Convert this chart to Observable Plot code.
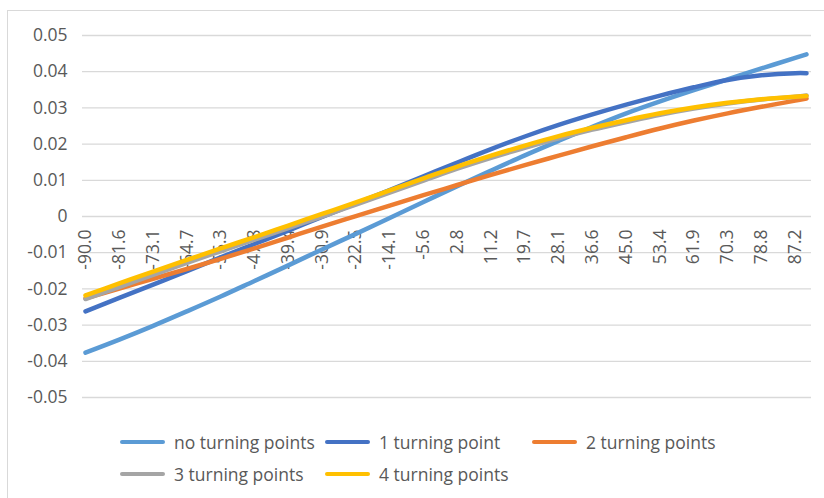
<!DOCTYPE html>
<html>
<head>
<meta charset="utf-8">
<script src="https://cdn.jsdelivr.net/npm/d3@7"></script>
<script src="https://cdn.jsdelivr.net/npm/@observablehq/plot@0.6"></script>
<style>
  body { margin: 0; background: #fff; font-family: "Open Sans", sans-serif; }
  #frame { position: absolute; left: 7px; top: 10px; width: 900px; height: 600px; border: 1px solid #d9d9d9; }
  #chart { position: relative; width: 824px; }
  #chart svg { display: block; }
  .legend { position: relative; padding-left: 120px; margin-top: 6px; display: flex; flex-wrap: wrap; width: 680px; }
  .item { display: flex; align-items: center; height: 32px; color: #595959; font-size: 17.5px; white-space: nowrap; }
  .item:nth-child(3n+1) { width: 205px; }
  .item:nth-child(3n+2) { width: 207px; }
  .swatch { width: 45px; height: 4.5px; border-radius: 2px; margin-right: 9px; }
</style>
</head>
<body>
<div id="frame"></div>
<div id="chart"></div>
<script>
// Latitude categories (degrees) and the labels shown on the category axis
const angles = [-90, -81.5625, -73.125, -64.6875, -56.25, -47.8125, -39.375, -30.9375, -22.5, -14.0625, -5.625,
  2.8125, 11.25, 19.6875, 28.125, 36.5625, 45, 53.4375, 61.875, 70.3125, 78.75, 87.1875, 90];
const angleLabels = ["-90.0", "-81.6", "-73.1", "-64.7", "-56.3", "-47.8", "-39.4", "-30.9", "-22.5", "-14.1", "-5.6",
  "2.8", "11.2", "19.7", "28.1", "36.6", "45.0", "53.4", "61.9", "70.3", "78.8", "87.2"];

const seriesNames = ["no turning points", "1 turning point", "2 turning points", "3 turning points", "4 turning points"];
const seriesColors = ["#5B9BD5", "#4472C4", "#ED7D31", "#A5A5A5", "#FFC000"];

const noTurning = [-0.0376, -0.0340, -0.0302, -0.0262, -0.0221, -0.0178, -0.0135, -0.0091, -0.0048, -0.0004, 0.0040,
  0.0084, 0.0127, 0.0169, 0.0209, 0.0248, 0.0285, 0.0318, 0.0349, 0.0379, 0.0409, 0.0438, 0.0448];
const oneTurning = [-0.0262, -0.0225, -0.0188, -0.0151, -0.0113, -0.0076, -0.0039, -0.0001, 0.0036, 0.0073, 0.0111,
  0.0149, 0.0186, 0.0221, 0.0253, 0.0282, 0.0309, 0.0334, 0.0357, 0.0377, 0.0390, 0.0396, 0.0396];
const twoTurning = [-0.0226, -0.0199, -0.0172, -0.0145, -0.0117, -0.0088, -0.0058, -0.0028, 0.0001, 0.0030, 0.0059,
  0.0087, 0.0115, 0.0142, 0.0168, 0.0194, 0.0219, 0.0243, 0.0265, 0.0285, 0.0303, 0.0320, 0.0326];
const threeTurning = [-0.0228, -0.0195, -0.0161, -0.0128, -0.0096, -0.0064, -0.0032, 0.0000, 0.0033, 0.0066, 0.0099,
  0.0132, 0.0162, 0.0190, 0.0216, 0.0240, 0.0261, 0.0281, 0.0298, 0.0312, 0.0323, 0.0331, 0.0334];
const fourTurning = [-0.0218, -0.0185, -0.0152, -0.0120, -0.0088, -0.0057, -0.0025, 0.0007, 0.0039, 0.0072, 0.0105,
  0.0138, 0.0168, 0.0196, 0.0222, 0.0245, 0.0266, 0.0285, 0.0301, 0.0314, 0.0324, 0.0331, 0.0333];

const yTicks = [-0.05, -0.04, -0.03, -0.02, -0.01, 0, 0.01, 0.02, 0.03, 0.04, 0.05];

const allSeries = [noTurning, oneTurning, twoTurning, threeTurning, fourTurning];
const rows = allSeries.flatMap((values, s) =>
  values.map((value, i) => ({series: seriesNames[s], angle: angles[i], value})));

const textColor = "#595959";

const chart = Plot.plot({
  width: 824,
  height: 420,
  marginLeft: 82,
  marginRight: 13,
  marginTop: 35,
  marginBottom: 23,
  style: {fontFamily: "'Open Sans', sans-serif", fontSize: "17.5px", background: "transparent"},
  x: {domain: [-90, 90], insetLeft: 3, insetRight: 5, axis: null},
  y: {domain: [-0.05, 0.05], axis: null},
  color: {domain: seriesNames, range: seriesColors},
  marks: [
    Plot.gridY(yTicks, {stroke: "#d9d9d9", strokeOpacity: 1, strokeWidth: 1.3}),
    Plot.axisY(yTicks, {
      label: null, tickSize: 0, tickPadding: 15, fill: textColor, fontSize: 17.5,
      tickFormat: d => d === 0 ? "0" : d.toFixed(2)
    }),
    Plot.text(angleLabels, {
      x: (d, i) => angles[i], y: () => 0, text: d => d,
      rotate: -90, textAnchor: "end", dy: 13, fill: textColor, fontSize: 17.5
    }),
    Plot.line(rows, {
      x: "angle", y: "value", z: "series", stroke: "series",
      strokeWidth: 4.5, curve: "catmull-rom", strokeLinecap: "round"
    })
  ]
});
document.getElementById("chart").appendChild(chart);

// Legend in two rows below the chart
const legend = document.createElement("div");
legend.className = "legend";
seriesNames.forEach((name, i) => {
  const item = document.createElement("div");
  item.className = "item";
  const sw = document.createElement("span");
  sw.className = "swatch";
  sw.style.background = seriesColors[i];
  const label = document.createElement("span");
  label.textContent = name;
  item.append(sw, label);
  legend.appendChild(item);
});
document.getElementById("chart").appendChild(legend);
</script>
</body>
</html>
